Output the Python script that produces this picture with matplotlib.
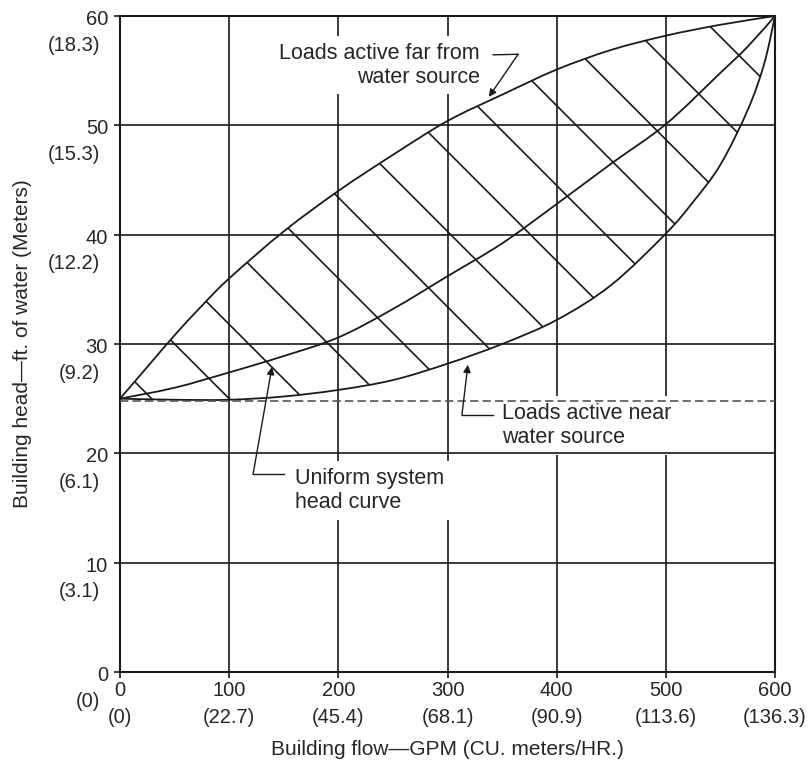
import numpy as np
import matplotlib
matplotlib.use("Agg")
import matplotlib.pyplot as plt
from matplotlib.path import Path
from matplotlib.patches import PathPatch

plt.rcParams['font.family'] = ['Liberation Sans', 'DejaVu Sans']

# flow in GPM, head in ft of water
far_flow = [0, 25, 50, 75, 100, 150, 200, 250, 300, 350, 400, 450, 500, 550, 600]
far_head = [25, 27.9, 30.8, 33.5, 36.0, 40.3, 44.0, 47.3, 50.4, 52.8, 55.1, 56.9, 58.2, 59.2, 60]

uni_flow = [0, 50, 100, 150, 200, 250, 300, 350, 400, 450, 500, 550, 575, 600]
uni_head = [25, 26.0, 27.4, 28.9, 30.6, 33.2, 36.2, 39.2, 42.8, 46.5, 50.1, 54.8, 57.2, 60]

near_flow = [0, 50, 100, 150, 200, 250, 300, 350, 400, 450, 500, 525, 550, 575, 590, 600]
near_head = [25, 24.9, 24.9, 25.2, 25.8, 26.7, 28.2, 30.0, 32.2, 35.4, 40.1, 43.0, 46.4, 51.4, 55.6, 60]

static_head = 24.8

# hatch lines: flow + 10*head = k
hatch_k = [279, 350, 418, 491, 560, 634, 703, 776, 845, 918, 987, 1059, 1131]

x_ticks = [0, 100, 200, 300, 400, 500, 600]
x_metric = ['(0)', '(22.7)', '(45.4)', '(68.1)', '(90.9)', '(113.6)', '(136.3)']
y_ticks = [0, 10, 20, 30, 40, 50, 60]
y_metric = ['(0)', '(3.1)', '(6.1)', '(9.2)', '(12.2)', '(15.3)', '(18.3)']

ink = '#1a1a1a'
txt = '#262626'


def smooth_verts(xs, ys):
    # catmull-rom through the read points, as cubic bezier vertices
    p = np.column_stack([xs, ys]).astype(float)
    p = np.vstack([p[0], p, p[-1]])
    verts = [p[1]]
    for i in range(1, len(p) - 2):
        c1 = p[i] + (p[i + 1] - p[i - 1]) / 6.0
        c2 = p[i + 1] - (p[i + 2] - p[i]) / 6.0
        verts += [c1, c2, p[i + 1]]
    return verts


def open_path(verts):
    return Path(verts, [Path.MOVETO] + [Path.CURVE4] * (len(verts) - 1))


fig = plt.figure(figsize=(8.11, 7.64), dpi=100)
ax = fig.add_axes([120 / 811, 1 - 672 / 764, 655 / 811, 656 / 764])
ax.set_xlim(0, 600)
ax.set_ylim(0, 60)

# grid: verticals sit under the label boxes, horizontals over them
for xv in x_ticks[1:-1]:
    ax.axvline(xv, color=ink, lw=1.2, zorder=1)
for yv in y_ticks[1:-1]:
    ax.axhline(yv, color=ink, lw=1.2, zorder=2.5)
for s in ax.spines.values():
    s.set_linewidth(1.5)
    s.set_color(ink)

far_v = smooth_verts(far_flow, far_head)
uni_v = smooth_verts(uni_flow, uni_head)
near_v = smooth_verts(near_flow, near_head)

for v in (far_v, uni_v, near_v):
    ax.add_patch(PathPatch(open_path(v), facecolor='none', edgecolor=ink, lw=1.3, zorder=4))
ax.plot([0, 600], [static_head, static_head], color='#555555', lw=1.2,
        dashes=(5, 2.5), zorder=4)

# hatching between far and near curves
back = near_v[::-1]
region_path = Path(far_v + back + [far_v[0]],
                   [Path.MOVETO] + [Path.CURVE4] * (len(far_v) - 1)
                   + [Path.LINETO] + [Path.CURVE4] * (len(back) - 1) + [Path.CLOSEPOLY])
region = PathPatch(region_path, facecolor='none', edgecolor='none')
ax.add_patch(region)
hx = np.array([0, 600])
for k in hatch_k:
    ln, = ax.plot(hx, (k - hx) / 10.0, color=ink, lw=1.2, zorder=3)
    ln.set_clip_path(region)

# annotations
box = dict(boxstyle='square,pad=0.3', facecolor='white', edgecolor='none')
ax.text(329.7, 55.5, 'Loads active far from\nwater source', ha='right', va='center',
        multialignment='right', fontsize=15.5, color=txt, bbox=box, zorder=2)
ax.text(160.3, 16.6, 'Uniform system\nhead curve', ha='left', va='center',
        fontsize=15.5, color=txt, bbox=box, zorder=2)
ax.text(349.8, 22.55, 'Loads active near\nwater source', ha='left', va='center',
        fontsize=15.5, color=txt, bbox=box, zorder=2)

arrows = [
    [(341.8, 56.45), (364.7, 56.5), (337.9, 52.6)],
    [(150.3, 18.1), (121.9, 18.1), (139.2, 27.9)],
    [(341.6, 23.5), (313.2, 23.5), (318.7, 28.1)],
]
for a, b, tip in arrows:
    ax.plot([a[0], b[0]], [a[1], b[1]], color=ink, lw=1.0, zorder=5)
    ax.annotate('', xy=tip, xytext=b,
                arrowprops=dict(arrowstyle='-|>', color=ink, lw=1.0,
                                mutation_scale=11, shrinkA=0, shrinkB=0),
                zorder=5)

# ticks and labels
ax.set_xticks(x_ticks)
ax.set_yticks(y_ticks)
ax.tick_params(direction='out', length=4, width=1.2, color=ink,
               labelbottom=False, labelleft=False)
for xv, m in zip(x_ticks, x_metric):
    ax.annotate(str(xv), xy=(xv, 0), xycoords=('data', 'axes fraction'),
                xytext=(0, -13), textcoords='offset points', ha='center', va='center',
                fontsize=14.5, color=txt, annotation_clip=False)
    ax.annotate(m, xy=(xv, 0), xycoords=('data', 'axes fraction'),
                xytext=(0, -32.5), textcoords='offset points', ha='center', va='center',
                fontsize=14.5, color=txt, annotation_clip=False)
for yv, m in zip(y_ticks, y_metric):
    ax.annotate(str(yv), xy=(0, yv), xycoords=('axes fraction', 'data'),
                xytext=(-8.6, -2.5), textcoords='offset points', ha='right', va='center',
                fontsize=14.5, color=txt, annotation_clip=False)
    ax.annotate(m, xy=(0, yv), xycoords=('axes fraction', 'data'),
                xytext=(-14.4, -21), textcoords='offset points', ha='right', va='center',
                fontsize=14.5, color=txt, annotation_clip=False)

ax.annotate('Building flow\u2014GPM (CU. meters/HR.)', xy=(0.5, 0), xycoords='axes fraction',
            xytext=(0, -56), textcoords='offset points', ha='center', va='center',
            fontsize=15, color=txt, annotation_clip=False)
ax.annotate('Building head\u2014ft. of water (Meters)', xy=(0, 0.5), xycoords='axes fraction',
            xytext=(-70.5, 0), textcoords='offset points', ha='center', va='center',
            rotation=90, fontsize=15, color=txt, annotation_clip=False)

fig.savefig('out.png', dpi=100, facecolor='white')
